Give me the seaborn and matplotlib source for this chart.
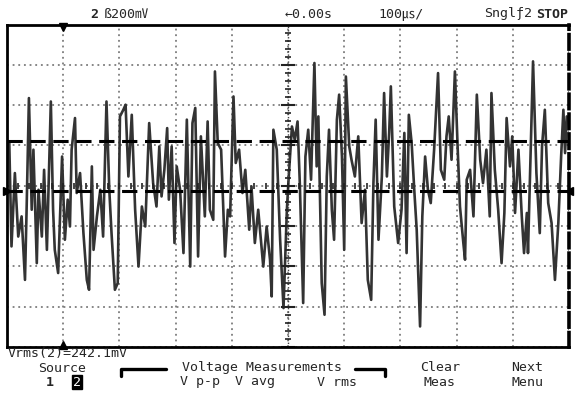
import numpy as np
import pandas as pd
import matplotlib.pyplot as plt
from matplotlib.lines import Line2D
import seaborn as sns

# single-shot capture of channel 2: 100 us/div, 200 mV/div
time_us = [-496, -492, -486, -480, -474, -468, -465, -461, -456, -453,
           -447, -444, -438, -434, -429, -422, -418, -415, -409, -402,
           -397, -392, -388, -385, -379, -376, -370, -364, -358, -354,
           -349, -346, -340, -334, -329, -323, -318, -314, -308, -303,
           -299, -293, -289, -284, -278, -272, -266, -260, -254, -247,
           -240, -234, -229, -225, -220, -215, -212, -207, -202, -198,
           -192, -186, -180, -174, -170, -165, -160, -155, -148, -143,
           -139, -133, -130, -125, -119, -112, -107, -103, -97, -93,
           -87, -81, -76, -69, -65, -59, -53, -44, -38, -32,
           -29, -26, -20, -14, -8, -2, 1, 7, 12, 17,
           21, 27, 31, 36, 41, 47, 51, 54, 60, 65,
           69, 73, 78, 82, 87, 91, 96, 100, 103, 109,
           113, 119, 125, 131, 137, 142, 148, 152, 156, 161,
           167, 171, 176, 180, 183, 189, 196, 202, 207, 211,
           215, 220, 225, 229, 235, 239, 244, 249, 254, 260,
           267, 272, 278, 282, 286, 291, 297, 302, 306, 312,
           315, 318, 324, 330, 336, 342, 347, 353, 359, 362,
           368, 374, 380, 385, 389, 395, 399, 404, 410, 416,
           420, 425, 427, 434, 436, 442, 448, 452, 457, 463,
           469, 475, 481, 486, 490, 493, 496]
volt_mv = [220, -301, 63, -252, -152, -467, -103, 435, -119, 179,
           -384, -20, -252, 79, -318, 418, -119, -318, -433, 145,
           -268, -69, -202, 179, 336, -36, 63, -235, -467, -516,
           96, -318, -152, -20, -252, 418, -20, -235, -516, -483,
           344, 377, 402, 46, 352, -119, -401, -103, -202, 311,
           13, -103, 195, -53, 79, 286, -69, 195, -284, 96,
           -20, -334, 328, -401, 311, 386, -351, 245, -152, 319,
           -119, -169, 567, 212, 179, -351, -119, -152, 443, 113,
           179, -36, 79, -218, -3, -284, -119, -401, -202, -367,
           -549, 278, 179, -268, -607, -119, 30, 294, 228, 319,
           13, -582, 145, 278, 30, 609, 96, 344, -483, -640,
           46, 278, -119, -268, 328, 452, 145, -318, 542, 195,
           129, 46, 245, -185, -20, -467, -566, 13, 328, -268,
           46, 460, 46, 262, 493, -103, -284, -119, 262, -334,
           352, 212, -36, -218, -698, -152, 145, -20, -86, 179,
           559, 79, 30, 245, 344, 129, 567, 179, -103, -284,
           -367, 30, 79, -152, 452, 129, 13, 179, -152, 460,
           79, -119, -384, -135, 336, 96, 245, -135, 179, -152,
           -334, -135, -334, 394, 617, 63, -235, 195, 377, -86,
           -185, -467, -185, 145, 377, 162, 344]

marker_hi_mv = 220
marker_lo_mv = -25
trig_us = -400

top_labels = ["\u21900.00s", "100\u33b2/"]
soft_keys = ["Clear\nMeas", "Next\nMenu"]
meas_keys = ["V p-p", "V avg", "V rms"]
readout = "Vrms(2)=242.1mV"

df = pd.DataFrame({"t": time_us, "v": volt_mv})

sns.set_style("white")
plt.rcParams["font.family"] = ["DejaVu Sans Mono", "Noto Sans CJK JP"]

W, H = 576, 394
fig = plt.figure(figsize=(W / 100, H / 100), dpi=100)
ax = fig.add_axes([7 / W, 47 / H, 562 / W, 322.5 / H])

sns.lineplot(data=df, x="t", y="v", ax=ax, estimator=None, sort=False,
             color="#333333", lw=1.9)

ax.set_xlim(-500, 500)
ax.set_ylim(-800, 800)
ax.set_xticks(np.arange(-500, 501, 100))
ax.set_yticks(np.arange(-800, 801, 200))
ax.grid(True, ls=(0, (1.2, 2.5)), color="#666", lw=1.1)
ax.tick_params(length=0, labelbottom=False, labelleft=False)
ax.set_xlabel("")
ax.set_ylabel("")
for s in ax.spines.values():
    s.set_color("black")
    s.set_linewidth(2)
ax.spines["right"].set_linestyle((0, (4, 1.5)))
ax.spines["right"].set_linewidth(2.6)

# center crosshair with fine graduations
ax.axvline(0, color="#444", lw=1.0, ls=(0, (1, 1.5)))
ax.plot(np.zeros(41), np.arange(-800, 801, 40), ls="none", marker="_",
        ms=5, mew=1.2, color="#222")
ax.plot(np.zeros(9), np.arange(-800, 801, 200), ls="none", marker="_",
        ms=10, mew=1.5, color="#222")
ax.plot(np.arange(-500, 501, 20), np.zeros(51), ls="none", marker="|",
        ms=5, mew=1.2, color="#222")

# measurement markers
ax.axhline(marker_hi_mv, color="black", lw=2.2, ls=(0, (5, 2.5)))
ax.axhline(marker_lo_mv, color="black", lw=2.2, ls=(0, (5, 2.5)))
ax.plot([-500], [marker_lo_mv], marker=">", ms=6, color="black", clip_on=False)
ax.plot([500], [marker_lo_mv], marker="<", ms=6, color="black", clip_on=False)
ax.plot([trig_us], [790], marker="v", ms=6, color="black", clip_on=False)
ax.plot([trig_us], [-790], marker="^", ms=6, color="black", clip_on=False)

def px(x, y, s, **kw):
    fig.text(x / W, 1 - y / H, s, va="center", fontsize=9.5, **kw)

px(90, 14, "2", weight="bold")
px(104, 14, "\u00df200\u33b7")
px(285, 14, top_labels[0])
px(378, 14, top_labels[1])
px(484, 14, "Sngl\u01922")
px(536, 14, "STOP", weight="bold")

px(8, 354, readout)
px(62, 368, "Source", ha="center")
px(50, 382, "1", weight="bold", ha="center")
px(77, 382, "2", ha="center", color="white",
   bbox=dict(boxstyle="square,pad=0.05", fc="black", ec="black"))
px(262, 368, "Voltage Measurements", ha="center")
for cx, lab in zip([200, 255, 337], meas_keys):
    px(cx, 382, lab, ha="center")
for cx, lab in zip([440, 527], soft_keys):
    px(cx, 375, lab, ha="center", linespacing=1.25)

# bracket over the measurement keys
for xs, ys in [([121, 121, 166], [376, 369, 369]),
               ([355, 385, 385], [369, 369, 376])]:
    fig.add_artist(Line2D([x / W for x in xs], [1 - y / H for y in ys],
                          color="black", lw=2.4))

fig.savefig("out.png", dpi=100, facecolor="white")
